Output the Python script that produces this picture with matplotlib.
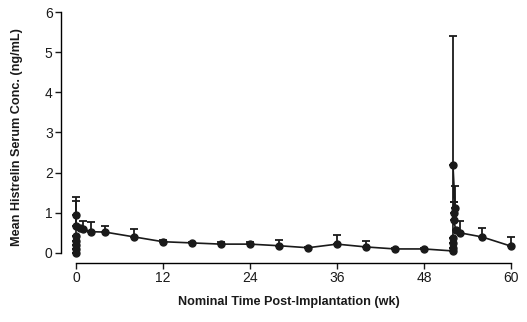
import matplotlib
matplotlib.use("Agg")
import matplotlib.pyplot as plt

plt.rcParams['font.family'] = ['Liberation Sans', 'DejaVu Sans']

# Mean histrelin concentration by nominal week (clusters at implant 0 and re-implant 52)
weeks = [0, 0, 0, 0, 0, 0, 0, 0.6, 1, 2, 4, 8, 12, 16, 20, 24, 28, 32, 36, 40, 44, 48,
         52, 52, 52, 52, 52, 52.3, 52.2, 52.1, 52.4, 53, 56, 60]
conc = [0.0, 0.1, 0.2, 0.3, 0.42, 0.95, 0.68, 0.62, 0.6, 0.53, 0.52, 0.4, 0.28, 0.25, 0.22,
        0.22, 0.18, 0.13, 0.22, 0.15, 0.1, 0.1,
        0.05, 0.12, 0.25, 0.37, 2.2, 1.12, 1.0, 0.82, 0.57, 0.5, 0.4, 0.17]
# upper standard deviation (only the upper whisker is drawn)
sd_up = [0.0, 0.0, 0.0, 0.0, 0.0, 0.45, 0.61, 0.0, 0.2, 0.25, 0.15, 0.2, 0.05, 0.03, 0.05,
         0.06, 0.14, 0.02, 0.23, 0.15, 0.02, 0.03,
         0.0, 0.0, 0.0, 0.0, 3.2, 0.55, 0.28, 0.46, 0.0, 0.3, 0.22, 0.23]
sd_lo = [0.0] * len(sd_up)

fig = plt.figure(figsize=(5.27, 3.22), dpi=100)
W, H = 527, 322
ax = fig.add_axes([61 / W, 1 - 263 / H, (516 - 61) / W, (263 - 12) / H])

ax.errorbar(weeks, conc, yerr=[sd_lo, sd_up], color='#1a1a1a', marker='o', markersize=5,
            linewidth=1.2, elinewidth=1.3, capsize=3, capthick=1.3)

ax.set_xlim(-2.07, 60.7)
ax.set_ylim(-0.25, 6.0)
ax.set_xticks([0, 12, 24, 36, 48, 60])
ax.set_yticks([0, 1, 2, 3, 4, 5, 6])

for s in ['top', 'right']:
    ax.spines[s].set_visible(False)
ax.spines['left'].set_bounds(0, 6)
ax.spines['bottom'].set_bounds(0, 60)
ax.spines['left'].set_linewidth(1.0)
ax.spines['bottom'].set_linewidth(1.0)
ax.tick_params(length=4, width=1.0, labelsize=10, colors='#1a1a1a', pad=2)

ax.set_xlabel('Nominal Time Post-Implantation (wk)', fontsize=9.1, fontweight='bold',
              labelpad=8, color='#1a1a1a')
ax.set_ylabel('Mean Histrelin Serum Conc. (ng/mL)', fontsize=9.1, fontweight='bold',
              labelpad=16, color='#1a1a1a')

fig.savefig('out.png', dpi=100)
